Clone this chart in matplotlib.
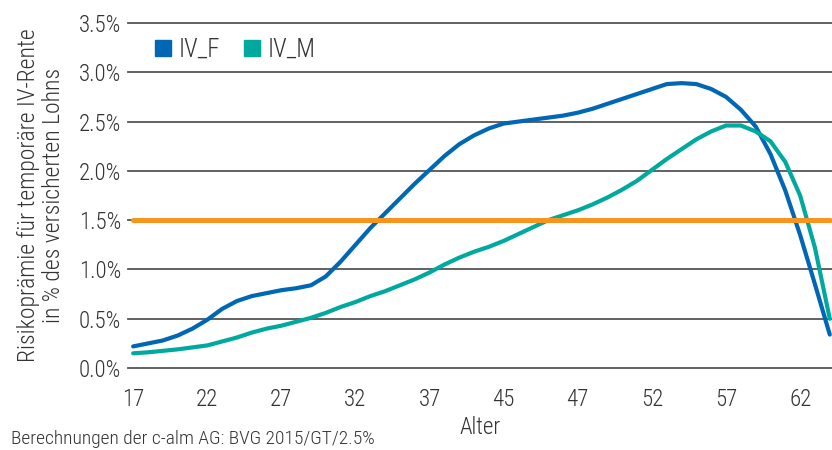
import matplotlib
matplotlib.use("Agg")
import matplotlib.pyplot as plt
from matplotlib.lines import Line2D

plt.rcParams['font.family'] = ['Roboto Condensed', 'DejaVu Sans']
plt.rcParams['font.weight'] = 300
plt.rcParams['axes.labelweight'] = 300

ages = list(range(17, 65))
iv_f = [0.22, 0.25, 0.28, 0.33, 0.40, 0.49, 0.60, 0.68, 0.73, 0.76,
        0.79, 0.81, 0.84, 0.93, 1.08, 1.25, 1.42, 1.57, 1.72, 1.87,
        2.01, 2.15, 2.27, 2.36, 2.43, 2.48, 2.50, 2.52, 2.54, 2.56,
        2.59, 2.63, 2.68, 2.73, 2.78, 2.83, 2.88, 2.89, 2.88, 2.83,
        2.75, 2.62, 2.45, 2.17, 1.80, 1.35, 0.85, 0.34]
iv_m = [0.15, 0.16, 0.175, 0.19, 0.21, 0.23, 0.27, 0.31, 0.36, 0.40,
        0.43, 0.47, 0.51, 0.56, 0.62, 0.67, 0.73, 0.78, 0.84, 0.90,
        0.97, 1.05, 1.12, 1.18, 1.23, 1.29, 1.36, 1.43, 1.50, 1.55,
        1.60, 1.66, 1.73, 1.81, 1.90, 2.01, 2.12, 2.22, 2.32, 2.40,
        2.46, 2.46, 2.40, 2.30, 2.09, 1.75, 1.22, 0.50]
threshold = 1.5

xtick_pos = [17, 22, 27, 32, 37, 42, 47, 52, 57, 62]
xtick_labels = ["17", "22", "27", "32", "37", "45", "47", "52", "57", "62"]
yticks = [0.0, 0.5, 1.0, 1.5, 2.0, 2.5, 3.0, 3.5]

c_f = "#0067B4"
c_m = "#00A99D"
c_o = "#F7941D"
txt = "#333333"

fig = plt.figure(figsize=(8.32, 4.5), dpi=100)
ax = fig.add_axes([0.1538, 0.182, 0.8462, 0.767])

for y in yticks:
    ax.axhline(y, color="#555555", lw=1.3, zorder=1, clip_on=False)

ax.plot(ages, iv_f, color=c_f, lw=3.0, zorder=3, solid_capstyle="round", solid_joinstyle="round")
ax.plot(ages, iv_m, color=c_m, lw=3.0, zorder=3, solid_capstyle="round", solid_joinstyle="round")
ax.plot([ages[0], ages[-1]], [threshold, threshold], color=c_o, lw=3.6, zorder=4,
        solid_capstyle="round")

ax.set_xlim(16.65, 64.15)
ax.set_ylim(0, 3.5)
ax.set_xticks(xtick_pos)
ax.set_xticklabels(xtick_labels)
ax.set_yticks(yticks)
ax.set_yticklabels([f"{v:.1f}%" for v in yticks])
ax.tick_params(length=0, labelsize=16.5, colors=txt)
ax.tick_params(axis="y", pad=5)
ax.tick_params(axis="x", pad=14)
for s in ax.spines.values():
    s.set_visible(False)

ax.set_xlabel("Alter", fontsize=16.5, color=txt, labelpad=4, fontweight=300)
ax.set_ylabel("Risikoprämie für temporäre IV-Rente\nin % des versicherten Lohns",
              fontsize=17, color=txt, labelpad=10, linespacing=1.1, fontweight=300)

handles = [Line2D([], [], marker="s", ls="none", color=c_f, markersize=11),
           Line2D([], [], marker="s", ls="none", color=c_m, markersize=11)]
leg = ax.legend(handles, ["IV_F", "IV_M"], loc="upper left", ncol=2, frameon=False,
                fontsize=18, handlelength=0.8, handletextpad=0.2, columnspacing=0.9,
                bbox_to_anchor=(0.022, 0.985), borderaxespad=0)
for t in leg.get_texts():
    t.set_color(txt)

fig.text(0.013, 0.004, "Berechnungen der c-alm AG: BVG 2015/GT/2.5%",
         fontsize=14, color=txt, ha="left", va="bottom")

fig.savefig("out.png", dpi=100)
